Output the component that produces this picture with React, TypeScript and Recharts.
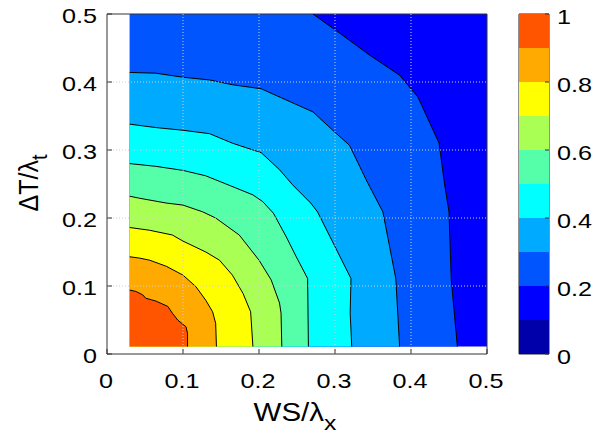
import {
  Area,
  Bar,
  BarChart,
  ComposedChart,
  Line,
  ReferenceArea,
  ReferenceLine,
  XAxis,
  YAxis,
} from "recharts"

// contour lines, [WS/λx, ΔT/λt] pairs
const c20 = [[0.271, 0.5], [0.306, 0.472], [0.345, 0.44], [0.385, 0.41], [0.409, 0.378], [0.437, 0.31], [0.444, 0.251], [0.45, 0.209], [0.453, 0.109], [0.461, 0.011]]
const c30 = [[0.03, 0.414], [0.064, 0.413], [0.1, 0.407], [0.135, 0.403], [0.165, 0.396], [0.203, 0.39], [0.249, 0.367], [0.271, 0.356], [0.299, 0.327], [0.319, 0.307], [0.342, 0.254], [0.363, 0.209], [0.38, 0.111], [0.385, 0.011]]
const c40 = [[0.03, 0.338], [0.064, 0.333], [0.1, 0.329], [0.135, 0.324], [0.165, 0.31], [0.203, 0.296], [0.227, 0.271], [0.244, 0.249], [0.268, 0.222], [0.277, 0.209], [0.299, 0.16], [0.321, 0.111], [0.32, 0.06], [0.322, 0.011]]
const c50 = [[0.03, 0.28], [0.064, 0.276], [0.1, 0.27], [0.13, 0.262], [0.15, 0.253], [0.192, 0.234], [0.205, 0.224], [0.219, 0.207], [0.236, 0.172], [0.249, 0.143], [0.264, 0.111], [0.265, 0.011]]
const c60 = [[0.03, 0.232], [0.043, 0.229], [0.078, 0.222], [0.1, 0.219], [0.126, 0.209], [0.143, 0.2], [0.174, 0.175], [0.2, 0.138], [0.216, 0.109], [0.227, 0.075], [0.229, 0.06], [0.23, 0.011]]
const c70 = [[0.03, 0.186], [0.056, 0.182], [0.086, 0.175], [0.1, 0.166], [0.13, 0.15], [0.148, 0.138], [0.165, 0.116], [0.179, 0.089], [0.189, 0.062], [0.192, 0.011]]
const c80 = [[0.03, 0.143], [0.043, 0.141], [0.056, 0.138], [0.078, 0.129], [0.1, 0.116], [0.117, 0.099], [0.13, 0.079], [0.139, 0.062], [0.143, 0.045], [0.144, 0.011]]
const c90 = [[0.03, 0.094], [0.038, 0.092], [0.047, 0.087], [0.051, 0.082], [0.064, 0.078], [0.08, 0.07], [0.086, 0.06], [0.093, 0.05], [0.104, 0.04], [0.106, 0.03], [0.106, 0.011]]

const contours = [c20, c30, c40, c50, c60, c70, c80, c90]
// data extent
const xMin = 0.03
const xMax = 0.5
const yMin = 0.011
const yMax = 0.5

// jet colours, one per 0.1 band from 0 to 1
const bandColors = ["#0000AA", "#0000FF", "#0055FF", "#00AAFF", "#00FFFF", "#55FFAA", "#AAFF55", "#FFFF00", "#FFAA00", "#FF5500"]
const bandSize = [0.1, 0.1, 0.1, 0.1, 0.1, 0.1, 0.1, 0.1, 0.1, 0.1]

const axisTicks = [0, 0.1, 0.2, 0.3, 0.4, 0.5]
const gridTicks = [0.1, 0.2, 0.3, 0.4]
const barTicks = [0, 0.2, 0.4, 0.6, 0.8, 1]

const font = "Liberation Sans, Arial, Helvetica, sans-serif"
const wide = 1.26 // the original text is drawn wider than the font
const fmt = (v: number) => (v === 0 ? "0" : String(Math.round(v * 10) / 10))

const toRows = (pts: number[][]) => pts.map(([x, y]) => ({ x, y }))

const Txt = ({ x, y, anchor, children }: any) => (
  <text
    transform={`translate(${x} ${y}) scale(${wide} 1)`}
    textAnchor={anchor}
    fontSize={20}
    fontFamily={font}
    fill="#000"
  >
    {children}
  </text>
)

const XTick = ({ x, y, payload }: any) => (
  <g>
    <line x1={x} y1={y} x2={x} y2={y - 5} stroke="#333" />
    <Txt x={x - 1} y={y + 34} anchor="middle">{fmt(payload.value)}</Txt>
  </g>
)

const YTick = ({ x, y, payload }: any) => (
  <g>
    <line x1={x} y1={y} x2={x + 5} y2={y} stroke="#333" />
    <Txt x={x - 10} y={y + 9} anchor="end">{fmt(payload.value)}</Txt>
  </g>
)

const TopTick = ({ x, y }: any) => <line x1={x} y1={y} x2={x} y2={y + 5} stroke="#333" />
const RightTick = ({ x, y }: any) => <line x1={x} y1={y} x2={x - 5} y2={y} stroke="#333" />

const BarTick = ({ x, y, payload }: any) => (
  <g>
    <line x1={x} y1={y} x2={x - 4} y2={y} stroke="#333" />
    <Txt x={x + 8} y={y + 10} anchor="start">{fmt(payload.value)}</Txt>
  </g>
)

function ContourPlot() {
  const base = toRows([[xMin, yMax], [xMax, yMax]])
  return (
    <ComposedChart width={603} height={443} margin={{ top: 14, right: 116, bottom: 49, left: 47 }}>
      <XAxis
        dataKey="x"
        type="number"
        domain={[0, 0.5]}
        ticks={axisTicks}
        allowDataOverflow
        height={40}
        axisLine={false}
        tickLine={false}
        tickSize={0}
        tickMargin={0}
        tick={<XTick />}
      />
      <XAxis
        xAxisId="top"
        orientation="top"
        dataKey="x"
        type="number"
        domain={[0, 0.5]}
        ticks={axisTicks}
        height={0}
        axisLine={false}
        tickLine={false}
        tickSize={0}
        tickMargin={0}
        tick={<TopTick />}
      />
      <YAxis
        type="number"
        domain={[0, 0.5]}
        ticks={axisTicks}
        allowDataOverflow
        width={60}
        axisLine={false}
        tickLine={false}
        tickSize={0}
        tickMargin={0}
        tick={<YTick />}
      />
      <YAxis
        yAxisId="right"
        orientation="right"
        type="number"
        domain={[0, 0.5]}
        ticks={axisTicks}
        width={0}
        axisLine={false}
        tickLine={false}
        tickSize={0}
        tickMargin={0}
        tick={<RightTick />}
      />
      <Area
        data={base}
        dataKey="y"
        type="linear"
        baseValue={yMin}
        fill={bandColors[1]}
        fillOpacity={1}
        stroke="none"
        isAnimationActive={false}
      />
      {contours.map((c, i) => {
        const rows = toRows(c)
        if (rows[0].x > xMin) rows.unshift({ x: xMin, y: yMax })
        return (
          <Area
            key={"a" + i}
            data={rows}
            dataKey="y"
            type="linear"
            baseValue={yMin}
            fill={bandColors[i + 2]}
            fillOpacity={1}
            stroke="none"
            isAnimationActive={false}
          />
        )
      })}
      {contours.map((c, i) => (
        <Line
          key={"l" + i}
          data={toRows(c)}
          dataKey="y"
          type="linear"
          stroke="#000"
          strokeWidth={1}
          dot={false}
          isAnimationActive={false}
        />
      ))}
      {gridTicks.map((t) => (
        <ReferenceLine key={"gx" + t} x={t} stroke="#d0d0d0" strokeDasharray="1 2" />
      ))}
      {gridTicks.map((t) => (
        <ReferenceLine key={"gy" + t} y={t} stroke="#d0d0d0" strokeDasharray="1 2" />
      ))}
      <ReferenceArea x1={0} x2={0.5} y1={0} y2={0.5} fill="none" stroke="#333" strokeWidth={1} />
      <text
        transform={`translate(295 421) scale(1.18 1)`}
        textAnchor="middle"
        fontSize={25}
        fontFamily={font}
        fill="#000"
      >
        WS/λ<tspan dy={9} fontSize={21}>x</tspan>
      </text>
      <text
        transform={`translate(38 183) rotate(-90) scale(1 1.1)`}
        textAnchor="middle"
        fontSize={25}
        fontFamily={font}
        fill="#000"
      >
        ΔT/λ<tspan dy={8} fontSize={20}>t</tspan>
      </text>
    </ComposedChart>
  )
}

function ColorBar() {
  const row: Record<string, number | string> = { name: "bar" }
  bandSize.forEach((v, i) => {
    row["b" + i] = v
  })
  return (
    <BarChart
      width={603}
      height={443}
      data={[row]}
      margin={{ top: 14, right: 14, bottom: 89, left: 519 }}
      barCategoryGap={0}
      barGap={0}
    >
      <XAxis dataKey="name" hide />
      <YAxis
        orientation="right"
        type="number"
        domain={[0, 1]}
        ticks={barTicks}
        width={40}
        axisLine={false}
        tickLine={false}
        tickSize={0}
        tickMargin={0}
        tick={<BarTick />}
      />
      {bandSize.map((_, i) => (
        <Bar key={i} dataKey={"b" + i} stackId="c" fill={bandColors[i]} isAnimationActive={false} />
      ))}
      <ReferenceArea y1={0} y2={1} fill="none" stroke="#222" strokeWidth={1} />
    </BarChart>
  )
}

export default function App() {
  return (
    <div style={{ position: "absolute", left: 0, top: 0, width: 603, height: 443, background: "#fff" }}>
      <div style={{ position: "absolute", left: 0, top: 0 }}>
        <ContourPlot />
      </div>
      <div style={{ position: "absolute", left: 0, top: 0 }}>
        <ColorBar />
      </div>
    </div>
  )
}
